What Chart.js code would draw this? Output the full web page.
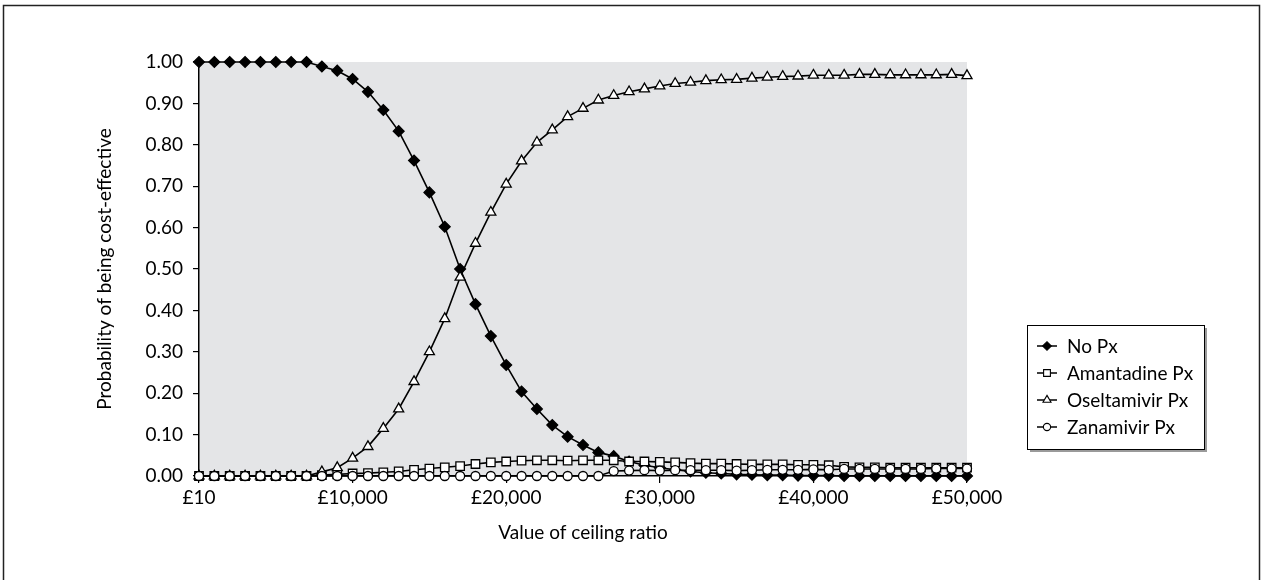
<!DOCTYPE html>
<html>
<head>
<meta charset="utf-8">
<script src="https://cdn.jsdelivr.net/npm/chart.js@4.4.1/dist/chart.umd.min.js"></script>
<style>
  html, body { margin: 0; padding: 0; background: #fff; }
  #wrap { position: relative; width: 1263px; height: 580px; }
  canvas { display: block; }
</style>
</head>
<body>
<div id="wrap"><canvas id="c" width="1263" height="580"></canvas></div>
<script>
// ---- Data ----
const ceilingLabels = ['£10'];
for (let k = 1; k <= 50; k++) ceilingLabels.push('£' + (k * 1000).toLocaleString('en-GB'));

const seriesNames = ['No Px', 'Amantadine Px', 'Oseltamivir Px', 'Zanamivir Px'];

const noPx = [1.000, 1.000, 1.000, 1.000, 1.000, 1.000, 1.000, 1.000, 0.989, 0.979,
  0.959, 0.928, 0.884, 0.833, 0.762, 0.685, 0.602, 0.500, 0.415, 0.338,
  0.268, 0.204, 0.162, 0.123, 0.095, 0.075, 0.057, 0.048, 0.035, 0.026,
  0.020, 0.015, 0.011, 0.008, 0.006, 0.004, 0.003, 0.002, 0.002, 0.001,
  0.001, 0.001, 0.000, 0.000, 0.000, 0.000, 0.000, 0.000, 0.000, 0.000, 0.000];

const amantadinePx = [0, 0, 0, 0, 0, 0, 0, 0, 0.002, 0.004,
  0.006, 0.007, 0.009, 0.011, 0.015, 0.018, 0.021, 0.024, 0.029, 0.033,
  0.035, 0.037, 0.038, 0.038, 0.037, 0.038, 0.038, 0.038, 0.035, 0.035,
  0.034, 0.033, 0.031, 0.030, 0.030, 0.029, 0.028, 0.028, 0.028, 0.027,
  0.027, 0.026, 0.022, 0.021, 0.021, 0.020, 0.020, 0.020, 0.020, 0.020, 0.020];

const oseltamivirPx = [0, 0, 0, 0, 0, 0, 0, 0, 0.010, 0.020,
  0.043, 0.071, 0.115, 0.162, 0.228, 0.300, 0.380, 0.480, 0.562, 0.637,
  0.705, 0.761, 0.806, 0.836, 0.868, 0.888, 0.908, 0.919, 0.928, 0.935,
  0.942, 0.948, 0.951, 0.955, 0.957, 0.958, 0.961, 0.963, 0.965, 0.966,
  0.968, 0.968, 0.968, 0.970, 0.970, 0.969, 0.969, 0.969, 0.969, 0.970, 0.967];

const zanamivirPx = [0, 0, 0, 0, 0, 0, 0, 0, 0, 0,
  0, 0, 0, 0, 0, 0, 0, 0, 0, 0,
  0, 0, 0, 0, 0, 0, 0, 0.012, 0.013, 0.014,
  0.013, 0.014, 0.014, 0.014, 0.014, 0.013, 0.014, 0.015, 0.015, 0.015,
  0.016, 0.015, 0.017, 0.017, 0.017, 0.017, 0.017, 0.017, 0.018, 0.018, 0.018];

const yTicks = [0, 0.1, 0.2, 0.3, 0.4, 0.5, 0.6, 0.7, 0.8, 0.9, 1.0];

const xTitle = 'Value of ceiling ratio';
const yTitle = 'Probability of being cost-effective';

// ---- Styles ----
const FONT = 'Lato, "Open Sans", "DejaVu Sans", sans-serif';
const FSIZE = 19;
const PLOT_BG = '#e4e5e7';

const styles = [
  { pointStyle: 'rectRot', radius: 5.4, bg: '#000', order: 4 },
  { pointStyle: 'rect', radius: 6, bg: '#fff', order: 3 },
  { pointStyle: 'triangle', radius: 5.8, bg: '#fff', order: 2 },
  { pointStyle: 'circle', radius: 4.5, bg: '#fff', order: 1 }
];
const seriesData = [noPx, amantadinePx, oseltamivirPx, zanamivirPx];

const datasets = seriesNames.map((name, i) => ({
  label: name,
  data: seriesData[i],
  borderColor: '#000',
  borderWidth: 1.6,
  backgroundColor: styles[i].bg,
  pointStyle: styles[i].pointStyle,
  pointRadius: styles[i].radius,
  pointHoverRadius: styles[i].radius,
  pointBackgroundColor: styles[i].bg,
  pointBorderColor: '#000',
  pointBorderWidth: 1.3,
  tension: 0,
  fill: false,
  clip: false,
  order: styles[i].order
}));

const decor = {
  id: 'decor',
  beforeDraw(chart) {
    const { ctx, chartArea: a } = chart;
    ctx.save();
    ctx.fillStyle = '#fff';
    ctx.fillRect(0, 0, chart.width, chart.height);
    ctx.fillStyle = PLOT_BG;
    ctx.fillRect(a.left, a.top, a.right - a.left, a.bottom - a.top);
    // outer frame (top, left, right)
    ctx.strokeStyle = '#222';
    ctx.lineWidth = 1.5;
    ctx.beginPath();
    ctx.moveTo(3.5, 580);
    ctx.lineTo(3.5, 5.5);
    ctx.lineTo(1259.5, 5.5);
    ctx.lineTo(1259.5, 580);
    ctx.stroke();
    ctx.restore();
  },
  afterDraw(chart) {
    const { ctx, chartArea: a } = chart;
    ctx.save();
    ctx.fillStyle = '#000';
    ctx.font = FSIZE + 'px ' + FONT;
    ctx.textAlign = 'center';
    ctx.textBaseline = 'middle';
    ctx.fillText(xTitle, (a.left + a.right) / 2, 533);
    ctx.translate(105, (a.top + a.bottom) / 2);
    ctx.rotate(-Math.PI / 2);
    ctx.fillText(yTitle, 0, 0);
    ctx.restore();

    // legend box
    const bx = 1027, by = 325, bw = 177, bh = 124;
    ctx.save();
    ctx.fillStyle = '#9a9a9a';
    ctx.fillRect(bx + 3, by + 3, bw, bh);
    ctx.fillStyle = '#fff';
    ctx.fillRect(bx, by, bw, bh);
    ctx.strokeStyle = '#000';
    ctx.lineWidth = 1;
    ctx.strokeRect(bx + 0.5, by + 0.5, bw, bh);
    ctx.font = FSIZE + 'px ' + FONT;
    ctx.textAlign = 'left';
    ctx.textBaseline = 'middle';
    seriesNames.forEach((name, i) => {
      const y = 346 + i * 27;
      ctx.strokeStyle = '#000';
      ctx.lineWidth = 1.5;
      ctx.beginPath();
      ctx.moveTo(1037, y);
      ctx.lineTo(1057, y);
      ctx.stroke();
      ctx.fillStyle = styles[i].bg;
      ctx.strokeStyle = '#000';
      ctx.lineWidth = 1.1;
      Chart.helpers.drawPoint(ctx, {
        pointStyle: styles[i].pointStyle,
        radius: styles[i].radius * 0.8,
        rotation: 0,
        borderWidth: 1.1
      }, 1047, y);
      ctx.fillStyle = '#000';
      ctx.fillText(name, 1067, y + 1);
    });
    ctx.restore();
  }
};

new Chart(document.getElementById('c'), {
  type: 'line',
  data: { labels: ceilingLabels, datasets },
  options: {
    responsive: false,
    animation: false,
    devicePixelRatio: 1,
    layout: { padding: { left: 0, top: 62, right: 296, bottom: 0 } },
    plugins: { legend: { display: false }, tooltip: { enabled: false } },
    scales: {
      x: {
        type: 'category',
        offset: false,
        afterFit(scale) { scale.height = 104; },
        grid: { drawOnChartArea: false, drawTicks: true, tickLength: 7, color: '#000', lineWidth: 1.2 },
        border: { color: '#000', width: 1.5 },
        ticks: {
          autoSkip: false,
          maxRotation: 0,
          minRotation: 0,
          color: '#000',
          padding: 3,
          font: { family: FONT, size: FSIZE },
          callback: (v, i) => (i % 10 === 0 ? ceilingLabels[i] : null)
        }
      },
      y: {
        min: 0,
        max: 1,
        afterFit(scale) { scale.width = 199; },
        afterBuildTicks(scale) { scale.ticks = yTicks.map(v => ({ value: v })); },
        grid: { drawOnChartArea: false, drawTicks: true, tickLength: 6, color: '#000', lineWidth: 1.2 },
        border: { color: '#000', width: 1.5 },
        ticks: {
          color: '#000',
          padding: 10,
          font: { family: FONT, size: FSIZE },
          callback: v => Number(v).toFixed(2)
        }
      }
    }
  },
  plugins: [decor]
});
</script>
</body>
</html>
